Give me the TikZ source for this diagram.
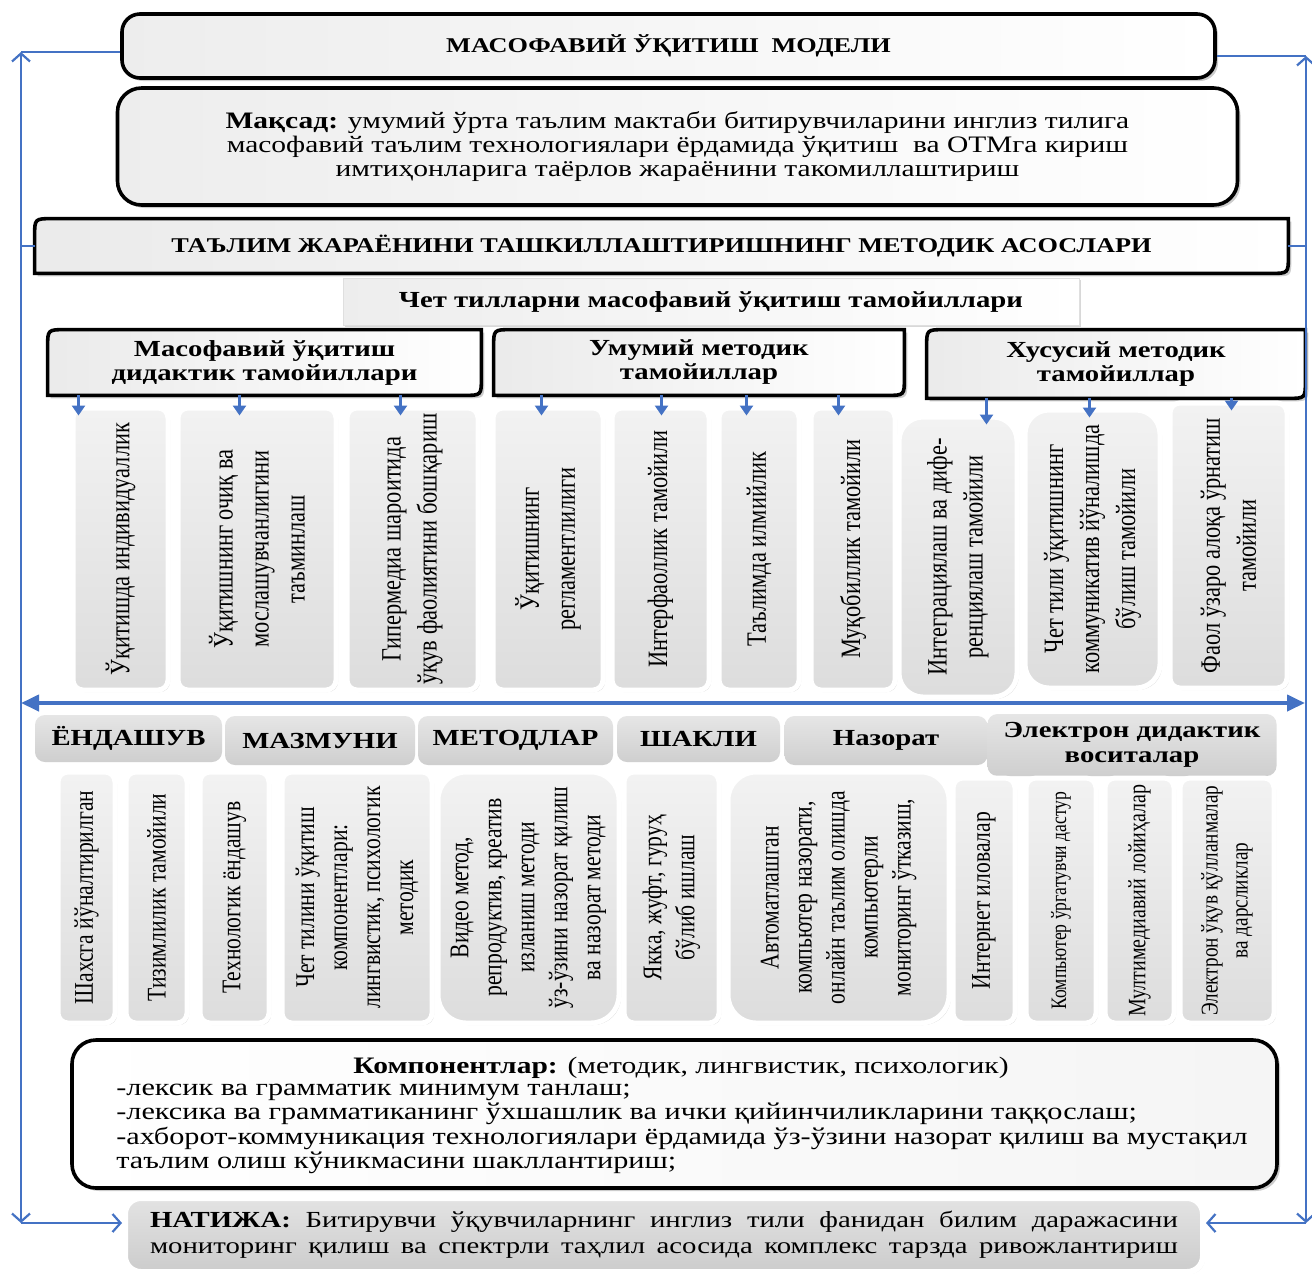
\documentclass[tikz,border=0pt]{standalone}
\usepackage{fontspec}
\setmainfont{Liberation Serif}[FakeStretch=1.25]
\newfontfamily\vfont[FakeStretch=0.8]{Liberation Serif}
\usetikzlibrary{shapes,arrows.meta,calc,positioning,fit,shadows,backgrounds}

\definecolor{lineblue}{HTML}{4472C4}

% frame with two round corners (top left, bottom right)
\newcommand{\diagframe}[2]{%
  \draw[#2] (#1.south west) -- ($(#1.north west)+(0,-9pt)$) .. controls (#1.north west) .. ($(#1.north west)+(9pt,0)$)
    -- (#1.north east) -- ($(#1.south east)+(0,9pt)$) .. controls (#1.south east) .. ($(#1.south east)+(-9pt,0)$) -- cycle;}

\begin{document}
\begin{tikzpicture}[x=0.5pt, y=-0.5pt, every node/.style={align=center, inner sep=0pt},
	bigbox/.style={draw=black, line width=1.8pt, rounded corners=9pt, left color=gray!14, right color=white, drop shadow={shadow xshift=1.5pt, shadow yshift=-1.5pt, opacity=.4}},
	diagline/.style={draw=black, line width=1.8pt, left color=gray!16, right color=white, drop shadow={shadow xshift=1.5pt, shadow yshift=-1.5pt, opacity=.4}},
	capsfont/.style={font=\bfseries\fontsize{10.5}{12}\selectfont},
	hdrfont/.style={font=\bfseries\fontsize{11.5}{12}\selectfont},
	bodyfont/.style={font=\fontsize{11.8}{12.2}\selectfont},
	colbox/.style={draw=white, line width=2.5pt, rounded corners=5pt, top color=gray!10, bottom color=gray!27, drop shadow={shadow xshift=1pt, shadow yshift=-1pt, opacity=.3}},
	vtext/.style={rotate=90, font=\vfont\fontsize{14}{18}\selectfont},
	vsmall/.style={rotate=90, font=\vfont\fontsize{13.5}{16.5}\selectfont},
	tabbox/.style={rounded corners=5pt, top color=gray!20, bottom color=gray!38, font=\bfseries\fontsize{11.5}{12.5}\selectfont},
	bluefr/.style={lineblue, line width=1.1pt, >={Straight Barb[length=4pt,width=9pt]}},
	downarr/.style={->, lineblue, line width=1.4pt, >={Triangle[length=5pt,width=6.5pt]}},
	bigarr/.style={<->, lineblue, line width=2pt, >={Triangle[length=9pt,width=8pt]}}
	]
	\useasboundingbox (0,0) rectangle (1312,1276);

	% top part
	\node[bigbox, minimum width=546.5pt, minimum height=32pt, capsfont] (model) at (668.5,46) {МАСОФАВИЙ ЎҚИТИШ\ \ МОДЕЛИ};
	\node[bigbox, rounded corners=12pt, minimum width=560pt, minimum height=58.5pt, bodyfont] (aim) at (677.5,146.5) {\textbf{Мақсад:} умумий ўрта таълим мактаби битирувчиларини инглиз тилига\\масофавий таълим технологиялари ёрдамида ўқитиш\ \ ва ОТМга кириш\\имтиҳонларига таёрлов жараёнини такомиллаштириш};
	\node[minimum width=626.5pt, minimum height=27pt, capsfont] (base) at (661.5,246) {ТАЪЛИМ ЖАРАЁНИНИ ТАШКИЛЛАШТИРИШНИНГ МЕТОДИК АСОСЛАРИ};
	\node[minimum width=368pt, minimum height=23.5pt, left color=gray!14, right color=white, draw=gray!25, line width=0.4pt, drop shadow={shadow xshift=1pt, shadow yshift=-1pt, opacity=.3}, hdrfont] (prin) at (711,301.5) {Чет тилларни масофавий ўқитиш тамойиллари};

	% headers
	\node[minimum width=216.5pt, minimum height=32.5pt, hdrfont] (h1) at (264.5,362.5) {Масофавий ўқитиш\\дидактик тамойиллари};
	\node[minimum width=205pt, minimum height=32.5pt, hdrfont] (h2) at (699,362.5) {Умумий методик\\тамойиллар};
	\node[minimum width=189pt, minimum height=34pt, hdrfont] (h3) at (1116,364) {Хусусий методик\\тамойиллар};

	% principles
	\node[colbox, fit={(73,408) (168,690)}] (c1) {};
	\node[vtext] (c1t) at (c1) {Ўқитишда индивидуаллик};
	\node[colbox, fit={(178,408) (336,690)}] (c2) {};
	\node[vtext] (c2t) at (c2) {Ўқитишнинг очиқ ва\\мослашувчанлигини\\таъминлаш};
	\node[colbox, fit={(347,408) (478,690)}] (c3) {};
	\node[vtext] (c3t) at (c3) {Гипермедиа шароитида\\ўқув фаолиятини бошқариш};
	\node[colbox, fit={(493,408) (603,690)}] (c4) {};
	\node[vtext] (c4t) at (c4) {Ўқитишнинг\\регламентлилиги};
	\node[colbox, fit={(612,408) (709,690)}] (c5) {};
	\node[vtext] (c5t) at (c5) {Интерфаоллик тамойили};
	\node[colbox, fit={(719,408) (799,690)}] (c6) {};
	\node[vtext] (c6t) at (c6) {Таълимда илмийлик};
	\node[colbox, fit={(811,408) (895,690)}] (c7) {};
	\node[vtext] (c7t) at (c7) {Муқобиллик тамойили};
	\node[colbox, rounded corners=12pt, fit={(899,417) (1017,697)}] (c8) {};
	\node[vtext] (c8t) at (c8) {Интеграциялаш ва дифе-\\ренциялаш тамойили};
	\node[colbox, rounded corners=12pt, fit={(1025,410) (1160,688)}] (c9) {};
	\node[vtext] (c9t) at (c9) {Чет тили ўқитишнинг\\коммуникатив йўналишда\\бўлиш тамойили};
	\node[colbox, fit={(1170,403) (1287,688)}] (c10) {};
	\node[vtext] (c10t) at (c10) {Фаол ўзаро алоқа ўрнатиш\\тамойили};

	\draw[downarr] ($(c1.north west |- h1.south)+(4pt,0)$) -- ($(c1.north west)+(4pt,-5pt)$);
	\draw[downarr] ($(c2.north west |- h1.south)+(32pt,0)$) -- ($(c2.north west)+(32pt,-5pt)$);
	\draw[downarr] ($(c3.north west |- h1.south)+(28pt,0)$) -- ($(c3.north west)+(28pt,-5pt)$);
	\draw[downarr] ($(c4.north west |- h2.south)+(25.5pt,0)$) -- ($(c4.north west)+(25.5pt,-5pt)$);
	\draw[downarr] ($(c5.north west |- h2.south)+(26pt,0)$) -- ($(c5.north west)+(26pt,-5pt)$);
	\draw[downarr] ($(c6.north west |- h2.south)+(15pt,0)$) -- ($(c6.north west)+(15pt,-5pt)$);
	\draw[downarr] ($(c7.north west |- h2.south)+(15pt,0)$) -- ($(c7.north west)+(15pt,-5pt)$);
	\draw[downarr] ($(c8.north west |- h3.south)+(45pt,0)$) -- ($(c8.north west)+(45pt,-5pt)$);
	\draw[downarr] ($(c9.north west |- h3.south)+(33.5pt,0)$) -- ($(c9.north west)+(33.5pt,-5pt)$);
	\draw[downarr] ($(c10.north west |- h3.south)+(32pt,0)$) -- ($(c10.north west)+(32pt,-5pt)$);

	% middle arrow
	\coordinate (ml) at (21,703);
	\coordinate (mr) at (1305,703);
	\draw[bigarr] (ml) -- (mr);

	% tabs
	\node[tabbox, minimum width=93.5pt, minimum height=23.5pt] (t1) at (128.5,738.5) {ЁНДАШУВ};
	\node[tabbox, minimum width=95pt, minimum height=24.5pt] (t2) at (320,740.5) {МАЗМУНИ};
	\node[tabbox, minimum width=97.5pt, minimum height=24.5pt] (t3) at (515.5,740.5) {МЕТОДЛАР};
	\node[tabbox, minimum width=81.5pt, minimum height=23pt] (t4) at (698.5,739) {ШАКЛИ};
	\node[tabbox, minimum width=101.5pt, minimum height=24.5pt] (t5) at (886,740.5) {Назорат};
	\node[tabbox, minimum width=144.5pt, minimum height=31pt] (t6) at (1132,745) {Электрон дидактик\\воситалар};

	% bottom columns
	\node[colbox, fit={(58,772) (115,1023)}] (b1) {};
	\node[vsmall] (b1t) at (b1) {Шахсга йўналтирилган};
	\node[colbox, fit={(126,772) (187,1023)}] (b2) {};
	\node[vsmall] (b2t) at (b2) {Тизимлилик тамойили};
	\node[colbox, fit={(200,772) (269,1023)}] (b3) {};
	\node[vsmall] (b3t) at (b3) {Технологик ёндашув};
	\node[colbox, fit={(282,772) (432,1023)}] (b4) {};
	\node[vsmall] (b4t) at (b4) {Чет тилини ўқитиш\\компонентлари:\\лингвистик, психологик\\методик};
	\node[colbox, rounded corners=14pt, fit={(438,772) (619,1023)}] (b5) {};
	\node[vsmall] (b5t) at (b5) {Видео метод,\\репродуктив, креатив\\изланиш методи\\ўз-ўзини назорат қилиш\\ва назорат методи};
	\node[colbox, fit={(624,772) (719,1023)}] (b6) {};
	\node[vsmall] (b6t) at (b6) {Якка, жуфт, гуруҳ\\бўлиб ишлаш};
	\node[colbox, rounded corners=14pt, fit={(728,772) (949,1023)}] (b7) {};
	\node[vsmall] (b7t) at (b7) {Автоматлашган\\компьютер назорати,\\онлайн таълим олишда\\компьютерли\\мониторинг ўтказиш,};
	\node[colbox, fit={(953,778) (1015,1023)}] (b8) {};
	\node[vsmall] (b8t) at (b8) {Интернет иловалар};
	\node[colbox, fit={(1026,778) (1096,1023)}] (b9) {};
	\node[vsmall, font=\vfont\fontsize{11}{13}\selectfont] (b9t) at (b9) {Компьютер ўргатувчи дастур};
	\node[colbox, fit={(1105,778) (1174,1023)}] (b10) {};
	\node[vsmall, font=\vfont\fontsize{12.5}{15}\selectfont] (b10t) at (b10) {Мултимедиавий лойиҳалар};
	\node[colbox, fit={(1180,778) (1274,1023)}] (b11) {};
	\node[vsmall, font=\vfont\fontsize{12}{15}\selectfont] (b11t) at (b11) {Электрон ўқув қўлланмалар\\ва дарсликлар};

	% components and result
	\node[bigbox, rounded corners=12pt, left color=white, right color=gray!8, minimum width=602.5pt, minimum height=74pt] (comp) at (674.5,1114) {};
	\node[bodyfont] (compt) at (681,1068) {\textbf{Компонентлар:} (методик, лингвистик, психологик)};
	\node[font=\fontsize{12.1}{12.2}\selectfont, anchor=west, align=left] (compl) at (116,1129) {-лексик ва грамматик минимум танлаш;\\-лексика ва грамматиканинг ўхшашлик ва ички қийинчиликларини таққослаш;\\-ахборот-коммуникация технологиялари ёрдамида ўз-ўзини назорат қилиш ва мустақил\\таълим олиш кўникмасини шакллантириш;};
	\node[draw=white, line width=3pt, rounded corners=8pt, top color=gray!22, bottom color=gray!40, drop shadow={shadow xshift=1pt, shadow yshift=-1pt, opacity=.3}, minimum width=539pt, minimum height=37pt, font=\fontsize{11.5}{13}\selectfont] (res) at (664,1235) {\makebox[514pt][s]{\textbf{НАТИЖА:} Битирувчи ўқувчиларнинг инглиз тили фанидан билим даражасини}\\\makebox[514pt][s]{мониторинг қилиш ва спектрли таҳлил асосида комплекс тарзда ривожлантириш}};

	% blue frame
	\coordinate (lt) at (21,52);
	\coordinate (lb) at (21,1223);
	\coordinate (rt) at (1306,56);
	\coordinate (rb) at (1306,1223);
	\draw[bluefr,<->] (lb) -- (lt);
	\draw[bluefr] (lt) -- (lt -| model.west);
	\draw[bluefr] (base.west -| lt) -- (base.west);
	\draw[bluefr,->] (lb) -- (lb -| res.west);
	\draw[bluefr,<->] (rb) -- (rt);
	\draw[bluefr] (rt -| model.east) -- (rt);
	\draw[bluefr] (base.east) -- (base.east -| rt);
	\draw[bluefr,->] (rb) -- (rb -| res.east);

	\begin{scope}[on background layer]
	\fill[white] (0,0) rectangle (1312,1276);
	\diagframe{base}{diagline}
	\diagframe{h1}{diagline}
	\diagframe{h2}{diagline}
	\diagframe{h3}{diagline}
	\end{scope}
\end{tikzpicture}
\end{document}
